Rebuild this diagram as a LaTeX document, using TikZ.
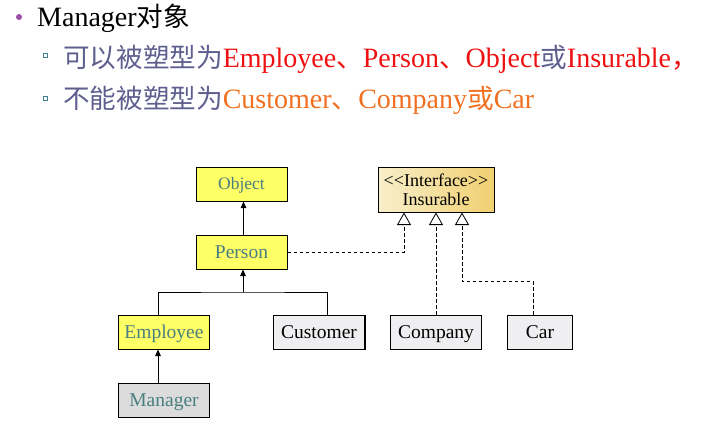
\documentclass[tikz,border=0pt]{standalone}
\usepackage{fontspec}
\setmainfont{Liberation Serif}
\newfontfamily\cjk[Scale=0.95]{Noto Sans CJK SC}
\usetikzlibrary{arrows.meta}
\definecolor{clsyellow}{HTML}{FFFF66}
\definecolor{clsgray}{HTML}{EFEFF1}
\definecolor{mgrgray}{HTML}{DCDCDC}
\definecolor{clstext}{HTML}{4A7F80}
\definecolor{zhtext}{HTML}{5F5F8F}
\definecolor{redtext}{HTML}{EE1111}
\definecolor{orangetext}{HTML}{F07020}
\definecolor{dotpurple}{HTML}{9B4FA6}
\definecolor{sqteal}{HTML}{3F7F8F}
\definecolor{ifaceleft}{HTML}{F8EECB}
\definecolor{ifaceright}{HTML}{F0D070}
\newcommand{\zh}[1]{{\cjk #1}}
\tikzset{
  cls/.style={draw, line width=1pt, minimum height=34pt, inner sep=0pt,
    text height=13pt, text depth=1pt, font=\fontsize{19.5}{22}\selectfont},
  ycls/.style={cls, fill=clsyellow, text=clstext},
  gcls/.style={cls, fill=clsgray, text=black},
  inh/.style={line width=0.8pt, -{Triangle[length=6.5pt,width=5.5pt]}},
  real/.style={line width=0.8pt, dash pattern=on 3.5pt off 2.5pt,
    -{Triangle[open,length=12.5pt,width=14pt,fill=white]}},
  sqbullet/.style={draw=sqteal, fill=white, line width=0.6pt,
    minimum size=4pt, inner sep=0pt},
  line/.style={anchor=base west, inner sep=0pt, font=\fontsize{28}{30}\selectfont}
}
\begin{document}
\begin{tikzpicture}[x=1pt,y=1pt]
\useasboundingbox (0,0) rectangle (707,-431);

% text above the diagram
\node[circle, fill=dotpurple, inner sep=0pt, minimum size=6pt] (dot) at (19,-17) {};
\node[line] (title) at (37,-26) {Manager\zh{对象}};
\node[sqbullet] (sq1) at (45,-55) {};
\node[line, text=zhtext] (cast) at (63,-67)
  {\zh{可以被塑型为}\textcolor{redtext}{Employee\zh{、}Person\zh{、}Object}\zh{或}\textcolor{redtext}{Insurable\zh{，}}};
\node[sqbullet] (sq2) at (45,-98) {};
\node[line, text=zhtext] (nocast) at (63,-108)
  {\zh{不能被塑型为}\textcolor{orangetext}{Customer\zh{、}Company\zh{或}Car}};

% classes
\node[ycls, minimum width=91pt, text height=12pt, font=\fontsize{17.5}{20}\selectfont] (object) at (241.5,-184) {Object};
\node[draw, line width=1pt, minimum width=116pt, minimum height=45pt, inner sep=0pt,
  left color=ifaceleft, right color=ifaceright, font=\fontsize{18}{19.5}\selectfont,
  align=center] (iface) at (436,-189.5) {<\kern0pt<Interface>\kern0pt>\\Insurable};
\node[ycls, minimum width=91pt] (person) at (241.5,-252) {Person};
\node[ycls, minimum width=91pt] (employee) at (164,-332) {Employee};
\node[gcls, minimum width=91.5pt] (customer) at (319,-332) {Customer};
\node[gcls, minimum width=91pt] (company) at (436,-332) {Company};
\node[gcls, minimum width=65pt] (car) at (540,-332) {Car};
\node[cls, fill=mgrgray, text=clstext, minimum width=91pt] (manager) at (164,-400) {Manager};
\draw[line width=1.8pt] (customer.north east) -- (customer.south east);

% inheritance
\coordinate (join) at (243,-292);
\draw[inh] ([xshift=2pt]person.north) -- ([xshift=2pt]object.south);
\draw[line width=0.8pt] ([xshift=-6pt]employee.north) |- (join) -| ([xshift=8pt]customer.north);
\draw[inh] (join) -- (join |- person.south);
\draw[inh] ([xshift=-6pt]manager.north) -- ([xshift=-6pt]employee.south);

% realization
\draw[real] (person.east) -| ([xshift=-32pt]iface.south);
\draw[real] (company.north) -- (iface.south);
\draw[real] ([xshift=-7pt]car.north) |- ([xshift=26pt,yshift=-69pt]iface.south) -- ([xshift=26pt]iface.south);
\end{tikzpicture}
\end{document}
